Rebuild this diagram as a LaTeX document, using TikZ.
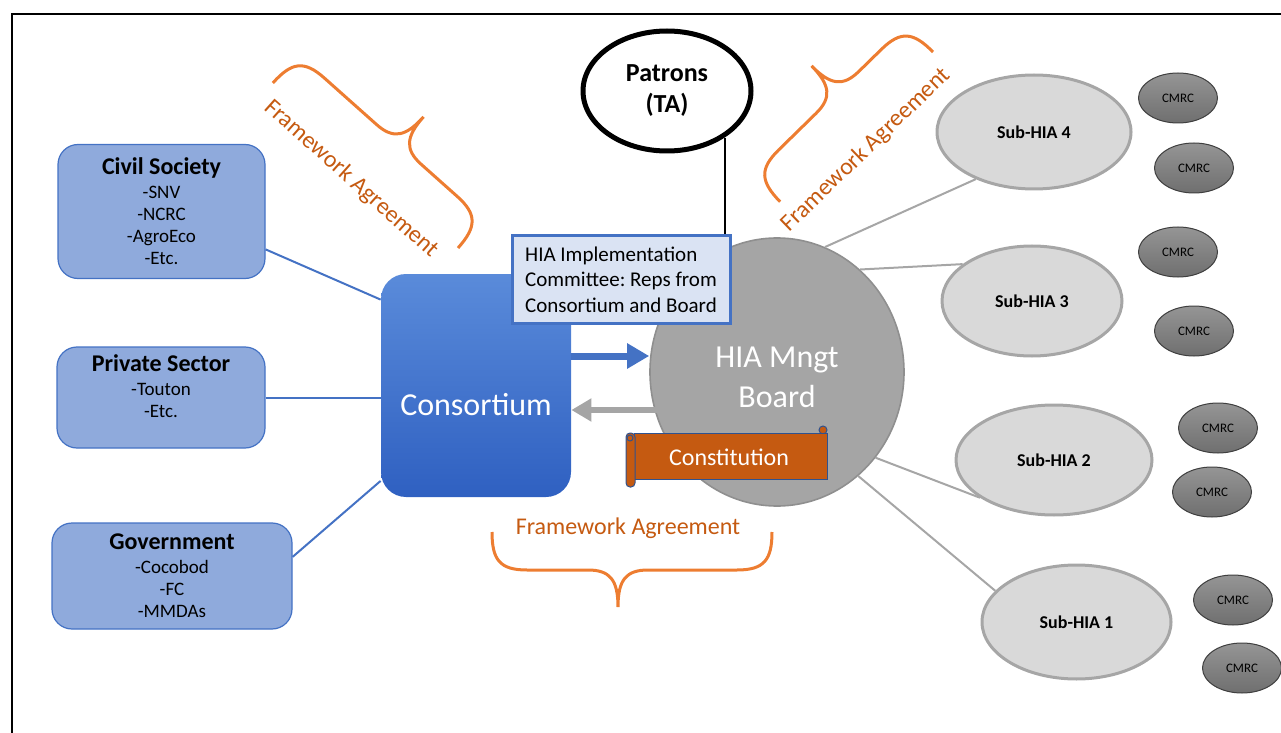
\documentclass[tikz,border=0pt]{standalone}
\usepackage{fontspec}
\setmainfont{Carlito}
\usetikzlibrary{arrows.meta,shapes.geometric}

\definecolor{boxblue}{HTML}{4472C4}
\definecolor{memberfill}{HTML}{8FAADC}
\definecolor{implfill}{HTML}{DAE3F3}
\definecolor{constop}{HTML}{5A8BDA}
\definecolor{consbot}{HTML}{2F60C1}
\definecolor{boardfill}{HTML}{A5A5A5}
\definecolor{boardline}{HTML}{8F8F8F}
\definecolor{subfill}{HTML}{D9D9D9}
\definecolor{subline}{HTML}{A6A6A6}
\definecolor{cmrctop}{HTML}{959595}
\definecolor{cmrcbot}{HTML}{6F6F6F}
\definecolor{cmrcline}{HTML}{3F3F3F}
\definecolor{scrollfill}{HTML}{C55A11}
\definecolor{scrollline}{HTML}{2F528F}
\definecolor{fworange}{HTML}{ED7D31}
\definecolor{fwtext}{HTML}{C55A11}

\tikzset{
  member/.style={draw=boxblue, fill=memberfill, rounded corners=10pt, line width=0.6pt,
    align=center, inner sep=2pt, font=\fontsize{9.5pt}{11pt}\selectfont},
  subhia/.style={ellipse, draw=subline, fill=subfill, line width=1.5pt, inner sep=0pt,
    font=\bfseries\fontsize{9pt}{11pt}\selectfont},
  cmrc/.style={ellipse, draw=cmrcline, top color=cmrctop, bottom color=cmrcbot, line width=0.5pt,
    minimum width=39.5pt, minimum height=25pt, inner sep=0pt, font=\fontsize{6.5pt}{8pt}\selectfont},
  link/.style={draw=boxblue, line width=1pt},
  spoke/.style={draw=subline, line width=1pt},
  fwbrace/.style={draw=fworange, line width=1.5pt},
  fwlabel/.style={text=fwtext, font=\fontsize{12pt}{14pt}\selectfont, inner sep=0pt},
  scrollpart/.style={fill=scrollfill, draw=scrollline, line width=0.5pt}
}

% curly brace: start point, angle, chord length, tip position
\newcommand{\fwbrace}[4]{%
  \draw[fwbrace, shift={#1}, rotate=#2]
    (0,0) .. controls (0,28) and (8,38) .. (35,38) -- (#4-30,38)
    .. controls (#4-8,38) and (#4,48) .. (#4,75)
    .. controls (#4,48) and (#4+8,38) .. (#4+30,38) -- (#3-35,38)
    .. controls (#3-8,38) and (#3,28) .. (#3,0);}

\begin{document}
\begin{tikzpicture}[x=0.5pt,y=-0.5pt]
  \useasboundingbox (0,0) rectangle (1281,733);
  \draw[line width=1pt] (12,14) rectangle (1320,780);

  % framework agreements
  \fwbrace{(458,248)}{138.3}{248}{113}
  \fwbrace{(933,52)}{224.4}{214}{96.5}
  \fwbrace{(492,532)}{0}{280}{126}
  \node[fwlabel, rotate=-41.7] (fwleft) at (351,179) {Framework Agreement};
  \node[fwlabel, rotate=44] (fwright) at (866,150) {Framework Agreement};
  \node[fwlabel] (fwbottom) at (628,528) {Framework Agreement};

  % members
  \node[member, minimum width=103.5pt, minimum height=67pt] (civil) at (161.5,211.5)
    {{\fontsize{12pt}{13pt}\selectfont\bfseries Civil Society}\\[1pt] -SNV\\ -NCRC\\ -AgroEco\\ -Etc.};
  \node[member, minimum width=104pt, minimum height=50.5pt] (private) at (161,397.5)
    {{\fontsize{12pt}{13pt}\selectfont\bfseries Private Sector}\\[1pt] -Touton\\ -Etc.\\ \mbox{}};
  \node[member, minimum width=120pt, minimum height=53pt] (gov) at (172,576)
    {{\fontsize{12pt}{13pt}\selectfont\bfseries Government}\\[1pt] -Cocobod\\ -FC\\ -MMDAs};

  \node[draw=none, rounded corners=12.5pt, top color=constop, bottom color=consbot,
    minimum width=95pt, minimum height=111.5pt] (cons) at (476,385.5) {};
  \node[text=white, font=\fontsize{16pt}{19pt}\selectfont] (constext) at (476,405) {Consortium};

  \draw[link] (civil.-20) -- (cons.138);
  \draw[link] (private.east) -- (private.east -| cons.west);
  \draw[link] (gov.9) -- (cons.225);

  % board and sub-HIAs
  \node[ellipse, fill=boardfill, draw=boardline, line width=0.8pt, minimum width=127pt,
    minimum height=134pt, inner sep=0pt] (board) at (777,372) {};
  \node[text=white, align=center, font=\fontsize{16pt}{20pt}\selectfont] (boardtext) at (777,377)
    {HIA Mngt\\ Board};

  \node[subhia, minimum width=97pt, minimum height=57pt] (sub4) at (1034,132) {Sub-HIA 4};
  \node[subhia, minimum width=90pt, minimum height=55pt] (sub3) at (1032,301) {Sub-HIA 3};
  \node[subhia, minimum width=98pt, minimum height=55pt] (sub2) at (1054,460) {Sub-HIA 2};
  \node[subhia, minimum width=94.5pt, minimum height=57pt] (sub1) at (1076.5,622) {Sub-HIA 1};

  \draw[spoke] (board.69) -- (sub4.219);
  \draw[spoke] (board.51) -- (sub3.152);
  \draw[spoke] (board.-41) -- (sub2.207);
  \draw[spoke] (board.-52) -- (sub1.159);

  \node[cmrc] (c4a) at (1178,98) {CMRC};
  \node[cmrc] (c4b) at (1194,168) {CMRC};
  \node[cmrc] (c3a) at (1178,252) {CMRC};
  \node[cmrc] (c3b) at (1194,331) {CMRC};
  \node[cmrc] (c2a) at (1218,428) {CMRC};
  \node[cmrc] (c2b) at (1212,492) {CMRC};
  \node[cmrc] (c1a) at (1233,600) {CMRC};
  \node[cmrc] (c1b) at (1242,668) {CMRC};

  % flows between consortium and board
  \draw[boxblue, line width=3.5pt, -{Triangle[length=11pt,width=12pt]}]
    ([yshift=14.75pt]cons.east) -- ([yshift=14.75pt]cons.east -| board.west);
  \draw[boardfill, line width=3pt, -{Triangle[length=10pt,width=11pt]}]
    ([yshift=-19pt,xshift=4pt]board.west) -- ([yshift=-19pt]board.west -| cons.east);

  % constitution scroll
  \filldraw[scrollpart] (823,430) circle (4);
  \filldraw[scrollpart] (634,433) rectangle (827,479);
  \filldraw[scrollpart, rounded corners=2pt] (626,433) rectangle (635,487);
  \filldraw[scrollpart] (630,438) circle (3);
  \node[text=white, font=\fontsize{12pt}{14pt}\selectfont] (const) at (729,457) {Constitution};

  % patrons and implementation committee
  \node[ellipse, draw, line width=2.5pt, minimum width=84pt, minimum height=60pt, align=center,
    font=\bfseries\fontsize{13pt}{15.5pt}\selectfont] (patrons) at (667,91) {Patrons\\ (TA)};
  \node[draw=boxblue, fill=implfill, line width=1.5pt, minimum width=109pt, minimum height=44pt,
    align=left, inner sep=3pt, font=\fontsize{10.5pt}{12.75pt}\selectfont] (impl) at (621,279.5)
    {HIA Implementation\\ Committee:\ Reps from\\ Consortium and Board};
  \draw[line width=1pt] (patrons.-39) -- (patrons.-39 |- impl.north);
\end{tikzpicture}
\end{document}
